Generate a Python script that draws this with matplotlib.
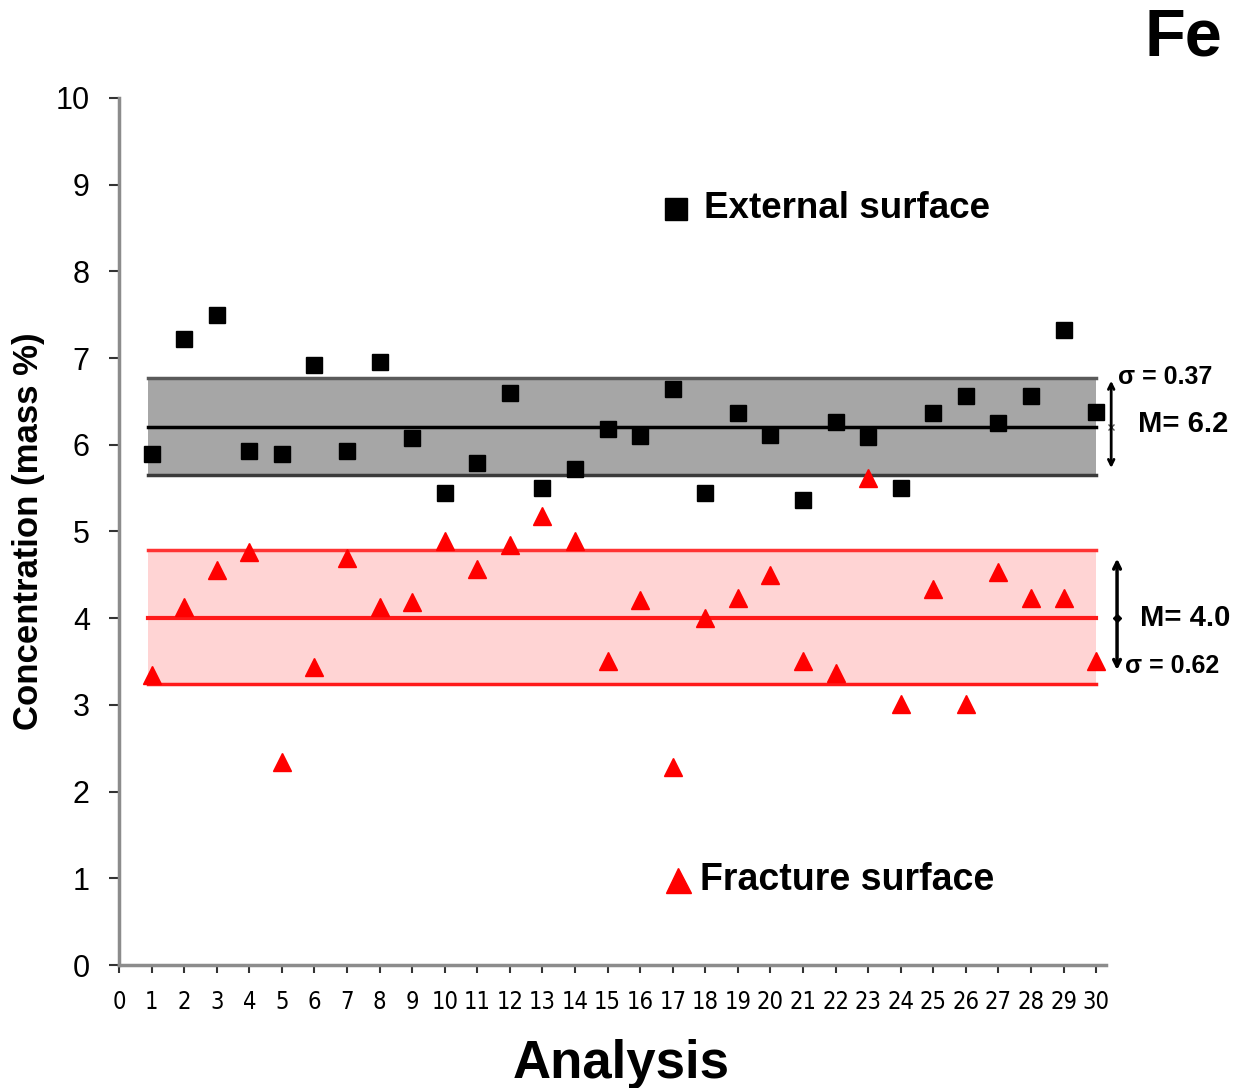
# ----------------------------------------------------------------------------------------------------------------------
# libraries
import numpy as np
import matplotlib
matplotlib.use('Agg')
import matplotlib.pyplot as plt
# ----------------------------------------------------------------------------------------------------------------------

# ----------------------------------------------------------------------------------------------------------------------
# data
analysis = list(range(1, 31))
external_surface = [5.89, 7.22, 7.50, 5.93, 5.89, 6.92, 5.93, 6.95, 6.08, 5.44,
                    5.79, 6.60, 5.50, 5.72, 6.18, 6.10, 6.64, 5.44, 6.37, 6.11,
                    5.36, 6.26, 6.09, 5.50, 6.37, 6.56, 6.25, 6.56, 7.32, 6.38]
fracture_surface = [3.34, 4.13, 4.56, 4.76, 2.34, 3.44, 4.69, 4.13, 4.19, 4.89,
                    4.57, 4.84, 5.18, 4.89, 3.51, 4.21, 2.28, 4.00, 4.23, 4.50,
                    3.51, 3.37, 5.62, 3.01, 4.34, 3.01, 4.53, 4.23, 4.23, 3.51]

ext_mean, ext_band = 6.2, (5.65, 6.77)
frac_mean, frac_band = 4.0, (3.24, 4.79)
ext_sigma_label, ext_mean_label = 'σ = 0.37', 'M= 6.2'
frac_sigma_label, frac_mean_label = 'σ = 0.62', 'M= 4.0'
x_ticks = list(range(0, 31))
y_ticks = list(range(0, 11))
# ----------------------------------------------------------------------------------------------------------------------

# ----------------------------------------------------------------------------------------------------------------------
# figure
plt.rcParams['font.family'] = ['Liberation Sans', 'DejaVu Sans']
fig = plt.figure(figsize=(12.36, 10.88), dpi=100)
ax = fig.add_axes([0.0963, 0.113, 0.7985, 0.797])

band_x = [0.9, 30.0]

# external surface band
ax.fill_between(band_x, ext_band[0], ext_band[1], color='#a6a6a6', zorder=1, linewidth=0)
ax.plot(band_x, [ext_band[0]] * 2, color='#3a3a3a', lw=2.5, zorder=2)
ax.plot(band_x, [ext_band[1]] * 2, color='#5a5a5a', lw=2.5, zorder=2)
ax.plot(band_x, [ext_mean] * 2, color='black', lw=2.5, zorder=2)

# fracture surface band
ax.fill_between(band_x, frac_band[0], frac_band[1], color='#ffd4d4', zorder=1, linewidth=0)
ax.plot(band_x, [frac_band[0]] * 2, color='#ff1a1a', lw=2.5, zorder=2)
ax.plot(band_x, [frac_band[1]] * 2, color='#ff3333', lw=2.5, zorder=2)
ax.plot(band_x, [frac_mean] * 2, color='#ff1a1a', lw=3, zorder=2)

# points
ax.plot(analysis, external_surface, linestyle='none', marker='s', ms=11.5, color='black', zorder=4)
ax.plot(analysis, fracture_surface, linestyle='none', marker='^', ms=12.5, color='#ff0000',
        markeredgecolor='#ff0000', zorder=4)

# brackets and statistics labels
ax.annotate('', xy=(30.46, ext_band[1]), xytext=(30.46, ext_band[0] + 0.05),
            arrowprops=dict(arrowstyle='<->', color='black', lw=2, mutation_scale=10),
            annotation_clip=False)
ax.annotate('', xy=(30.64, 4.72), xytext=(30.64, 3.37),
            arrowprops=dict(arrowstyle='<->', color='black', lw=2.5, mutation_scale=12),
            annotation_clip=False)
ax.plot([30.46], [ext_mean], marker='x', ms=5, color='#555555', clip_on=False)
ax.plot([30.64], [frac_mean], marker='D', ms=4, color='black', clip_on=False)

ax.text(30.68, 6.78, ext_sigma_label, fontsize=18, fontweight='bold', va='center', ha='left')
ax.text(31.27, 6.24, ext_mean_label, fontsize=21, fontweight='bold', va='center', ha='left')
ax.text(31.33, 4.0, frac_mean_label, fontsize=21, fontweight='bold', va='center', ha='left')
ax.text(30.87, 3.45, frac_sigma_label, fontsize=18, fontweight='bold', va='center', ha='left')

# legend-like labels
ax.plot([17.1], [8.72], marker='s', ms=16, color='black', clip_on=False)
ax.text(17.95, 8.72, 'External surface', fontsize=26.5, fontweight='bold', va='center', ha='left')
ax.plot([17.17], [0.98], marker='^', ms=18, color='#ff0000', clip_on=False)
ax.text(17.85, 0.98, 'Fracture surface', fontsize=27, fontweight='bold', va='center', ha='left')

# axes
ax.set_xlim(0, 30.3)
ax.set_ylim(0, 10)
ax.set_xticks(x_ticks)
ax.set_yticks(y_ticks)
ax.set_xticklabels([str(v) for v in x_ticks], fontsize=17,
                   family=['Liberation Sans Narrow', 'DejaVu Sans'], fontstretch='condensed')
ax.set_yticklabels([str(v) for v in y_ticks], fontsize=22)
ax.tick_params(axis='x', direction='out', length=6, width=1.5, color='#333333', pad=12)
ax.tick_params(axis='y', direction='out', length=7, width=1.5, color='#333333', pad=14)

for side in ['top', 'right']:
    ax.spines[side].set_visible(False)
for side in ['left', 'bottom']:
    ax.spines[side].set_color('#8c8c8c')
    ax.spines[side].set_linewidth(2.5)

ax.set_ylabel('Concentration (mass %)', fontsize=25, fontweight='bold', labelpad=8)
ax.set_xlabel('Analysis', fontsize=38, fontweight='bold', labelpad=16)
ax.xaxis.set_label_coords(0.509, -0.085)

fig.text(0.989, 0.965, 'Fe', fontsize=48, fontweight='bold', ha='right', va='center')

fig.savefig('out.png', dpi=100)
# ----------------------------------------------------------------------------------------------------------------------
